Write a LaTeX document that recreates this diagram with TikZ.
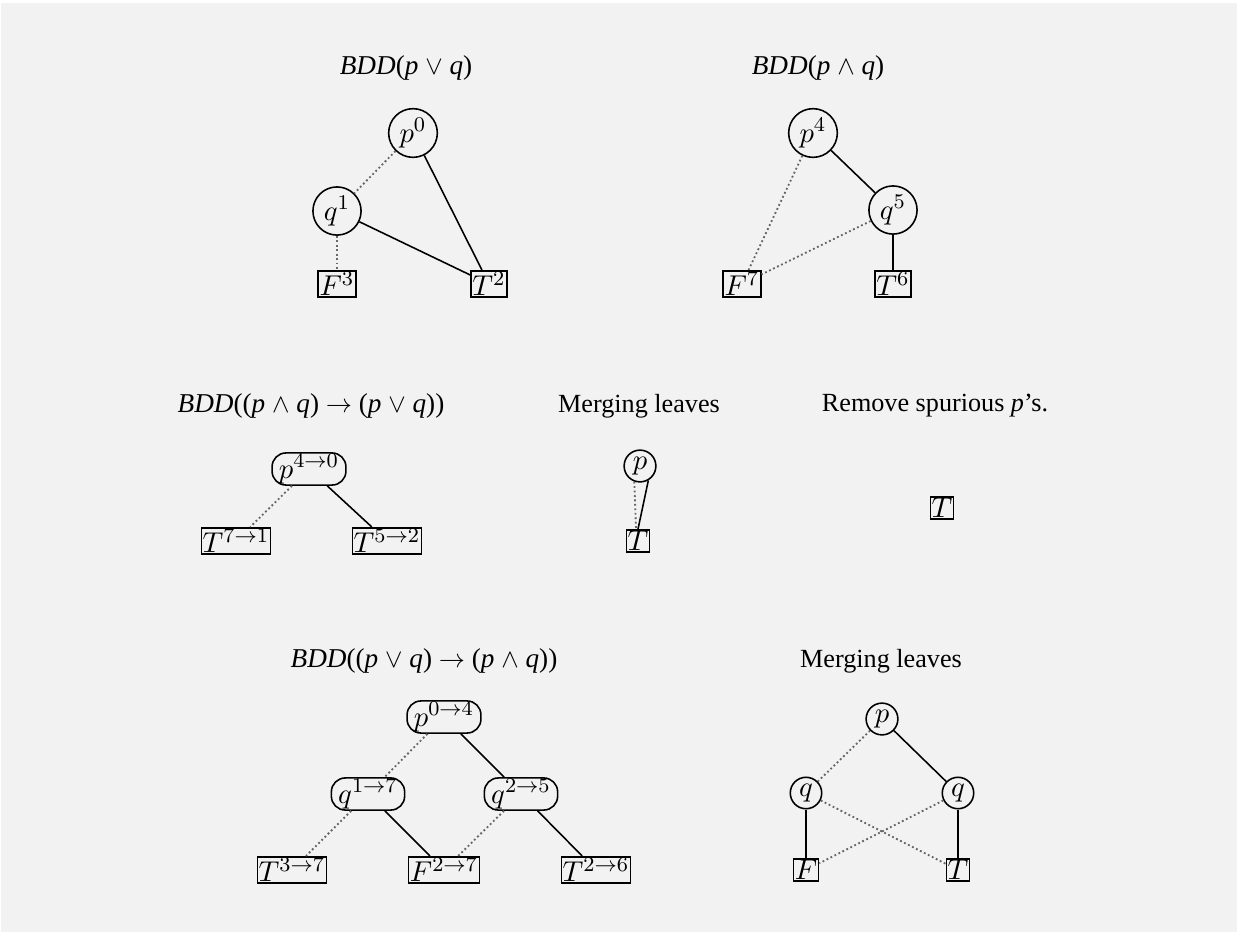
\documentclass[tikz,border=0pt]{standalone}
\usepackage{fontspec}
\setmainfont{Liberation Serif}
\definecolor{bggray}{RGB}{242,242,242}
\begin{document}
\begin{tikzpicture}[x=0.382pt,y=-0.382pt,
  nf/.style={font=\fontsize{11}{13}\selectfont},
  vc/.style={nf,draw,circle,inner sep=1.2pt,line width=0.6pt},
  lf/.style={nf,draw,rectangle,inner sep=0.5pt,line width=0.6pt},
  rr/.style={nf,draw,rounded corners=5.3pt,inner xsep=2.6pt,inner ysep=0.5pt,line width=0.6pt},
  hi/.style={line width=0.6pt},
  lo/.style={line width=0.7pt,densely dotted,black!60},
  ttl/.style={inner sep=0pt,font=\fontsize{10.4}{12}\selectfont}]
\fill[white] (0,0) rectangle (1244,934);
\fill[bggray] (1,3) rectangle (1237,932);
\useasboundingbox (0,0) rectangle (1244,934);

% row 1 titles
\node[ttl] (t1) at (406,68) {\textit{BDD}(\textit{p} $\vee$ \textit{q})};
\node[ttl] (t2) at (818,68) {\textit{BDD}(\textit{p} $\wedge$ \textit{q})};

% BDD(p or q)
\node[vc] (p0) at (413,133) {$p^0$};
\node[vc] (q1) at (337,211) {$q^1$};
\node[lf] (F3) at (337,284) {$F^3$};
\node[lf] (T2) at (489,284) {$T^2$};
\draw[lo] (p0) -- (q1);
\draw[hi] (p0) -- (T2);
\draw[lo] (q1) -- (F3);
\draw[hi] (q1) -- (T2);

% BDD(p and q)
\node[vc] (p4) at (813,133) {$p^4$};
\node[vc] (q5) at (893,210) {$q^5$};
\node[lf] (F7) at (742,284) {$F^7$};
\node[lf] (T6) at (893,284) {$T^6$};
\draw[lo] (p4) -- (F7);
\draw[hi] (p4) -- (q5);
\draw[lo] (q5) -- (F7);
\draw[hi] (q5) -- (T6);

% row 2 titles
\node[ttl] (t3) at (311,406) {\textit{BDD}((\textit{p} $\wedge$ \textit{q}) $\rightarrow$ (\textit{p} $\vee$ \textit{q}))};
\node[ttl,font=\fontsize{10}{12}\selectfont] (t4) at (639,406) {Merging leaves};
\node[ttl,font=\fontsize{10}{12}\selectfont] (t5) at (935,406) {Remove spurious \textit{p}'s.};

% BDD((p and q) -> (p or q))
\node[rr] (p40) at (309,469) {$p^{4\to0}$};
\node[lf] (T71) at (236,541) {$T^{7\to1}$};
\node[lf] (T52) at (387,541) {$T^{5\to2}$};
\draw[lo] (p40) -- (T71);
\draw[hi] (p40) -- (T52);

% merging leaves
\node[vc] (pm) at (640,466) {$p$};
\node[lf] (Tm) at (638,541) {$T$};
\coordinate (Tmn) at (636,528);
\draw[lo] (pm.250) -- (Tmn);
\draw[hi] (pm.-60) -- (Tm.north);

% remove spurious
\node[lf] (Ta) at (942,508) {$T$};

% row 3 titles
\node[ttl] (t6) at (424,661) {\textit{BDD}((\textit{p} $\vee$ \textit{q}) $\rightarrow$ (\textit{p} $\wedge$ \textit{q}))};
\node[ttl,font=\fontsize{10}{12}\selectfont] (t7) at (881,661) {Merging leaves};

% BDD((p or q) -> (p and q))
\node[rr] (p04) at (444,717) {$p^{0\to4}$};
\node[rr] (q17) at (368,794) {$q^{1\to7}$};
\node[rr] (q25) at (521,794) {$q^{2\to5}$};
\node[lf] (T37) at (292,870) {$T^{3\to7}$};
\node[lf] (F27) at (444,870) {$F^{2\to7}$};
\node[lf] (T26) at (596,870) {$T^{2\to6}$};
\draw[lo] (p04) -- (q17);
\draw[hi] (p04) -- (q25);
\draw[lo] (q17) -- (T37);
\draw[hi] (q17) -- (F27);
\draw[lo] (q25) -- (F27);
\draw[hi] (q25) -- (T26);

% merging leaves 2
\node[vc] (mp) at (882,719) {$p$};
\node[vc] (mqL) at (806,793) {$q$};
\node[vc] (mqR) at (958,793) {$q$};
\node[lf] (mF) at (806,870) {$F$};
\node[lf] (mT) at (958,870) {$T$};
\draw[lo] (mp) -- (mqL);
\draw[hi] (mp) -- (mqR);
\draw[hi] (mqL) -- (mF);
\draw[lo] (mqL) -- (mT);
\draw[lo] (mqR) -- (mF);
\draw[hi] (mqR) -- (mT);
\end{tikzpicture}
\end{document}
